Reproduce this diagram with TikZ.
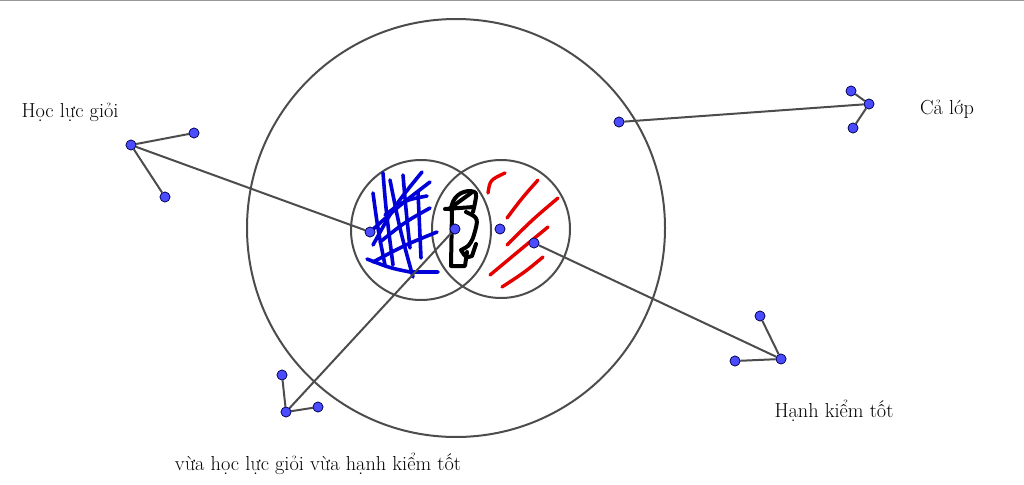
\documentclass[tikz,border=0pt]{standalone}
\usepackage{fontspec}
\begin{document}
\begin{tikzpicture}[x=1pt,y=-1pt,
  ring/.style={draw=black!70,line width=2pt},
  link/.style={draw=black!70,line width=2pt},
  pt/.style={circle,fill=blue!70!white,draw=blue!30!black,line width=0.6pt,inner sep=0pt,minimum size=10pt},
  lbl/.style={font=\fontsize{20.3}{24}\selectfont,inner sep=0pt},
  bluescr/.style={draw=blue!85!black,line width=3.6pt,line cap=round,line join=round},
  redscr/.style={draw=red!90!black,line width=3.4pt,line cap=round,line join=round},
  blkscr/.style={draw=black,line width=4pt,line cap=round,line join=round}]
\useasboundingbox (0,0) rectangle (1024,484);
\draw[draw=black!40,line width=1.5pt] (0,0.75) -- (1024,0.75);
% circles
\draw[ring] (456,228) circle[radius=209];
\draw[ring] (421,230) circle[radius=70];
\draw[ring] (501,229) circle[radius=69];
% scribbles blue
\draw[bluescr] (383,173) .. controls (386,210) .. (393,265);
\draw[bluescr] (390,180) .. controls (400,230) .. (413,277);
\draw[bluescr] (403,175) .. controls (406,210) .. (410,248);
\draw[bluescr] (418,192) .. controls (419,225) .. (421,258);
\draw[bluescr] (373,193) .. controls (378,230) .. (385,265);
\draw[bluescr] (373,245) .. controls (395,205) .. (422,172);
\draw[bluescr] (370,232) .. controls (400,205) .. (430,182);
\draw[bluescr] (380,242) .. controls (405,222) .. (430,208);
\draw[bluescr] (373,262) .. controls (405,245) .. (437,232);
\draw[bluescr] (367,259) .. controls (390,268) .. (410,272) -- (438,272);
\draw[bluescr] (385,215) .. controls (405,200) .. (427,196);
% scribbles red
\draw[redscr] (488,193) .. controls (490,180) .. (505,173);
\draw[redscr] (507,218) .. controls (522,198) .. (538,180);
\draw[redscr] (507,245) .. controls (532,220) .. (558,198);
\draw[redscr] (490,275) .. controls (520,250) .. (548,227);
\draw[redscr] (502,287) .. controls (525,272) .. (543,257);
% scribble black
\draw[blkscr] (445,209) -- (474,207);
\draw[blkscr] (451,210) .. controls (452,196) and (462,191) .. (470,191) .. controls (477,192) .. (475,203) -- (473,212);
\draw[blkscr] (449,209) -- (471,193);
\draw[blkscr] (452,210) -- (451,266) -- (465,266) -- (467,252);
\draw[blkscr] (466,212) .. controls (479,218) .. (473,238) .. controls (469,246) .. (461,250) .. controls (466,258) .. (472,256) -- (476,244);
% points
\node[pt] (A) at (370,232) {};
\node[pt] (I) at (455,229) {};
\node[pt] (B) at (500,229) {};
\node[pt] (R) at (534,243) {};
\node[pt] (C) at (619,122) {};
% Hoc luc gioi
\node[pt] (h1) at (131,145) {};
\node[pt] (h2) at (194,133) {};
\node[pt] (h3) at (165,197) {};
\draw[link] (h1) -- (h2); \draw[link] (h1) -- (h3); \draw[link] (h1) -- (A);
% Ca lop
\node[pt] (c1) at (869,104) {};
\node[pt] (c2) at (851,91) {};
\node[pt] (c3) at (853,128) {};
\draw[link] (c1) -- (c2); \draw[link] (c1) -- (c3); \draw[link] (c1) -- (C);
% Hanh kiem tot
\node[pt] (k1) at (781,359) {};
\node[pt] (k2) at (760,316) {};
\node[pt] (k3) at (735,361) {};
\draw[link] (k1) -- (k2); \draw[link] (k1) -- (k3); \draw[link] (k1) -- (R);
% vua ... vua
\node[pt] (v1) at (286,412) {};
\node[pt] (v2) at (282,375) {};
\node[pt] (v3) at (318,407) {};
\draw[link] (v1) -- (v2); \draw[link] (v1) -- (v3); \draw[link] (v1) -- (I);
% redraw points on top
\foreach \n in {A,I,B,R,C,h1,h2,h3,c1,c2,c3,k1,k2,k3,v1,v2,v3}{\node[pt] at (\n) {};}
% labels
\node[lbl] (lh) at (70,112) {Học lực giỏi};
\node[lbl] (lc) at (947,109) {Cả lớp};
\node[lbl] (lk) at (834,411) {Hạnh kiểm tốt};
\node[lbl] (lv) at (318,464) {vừa học lực giỏi vừa hạnh kiểm tốt};
\end{tikzpicture}
\end{document}
